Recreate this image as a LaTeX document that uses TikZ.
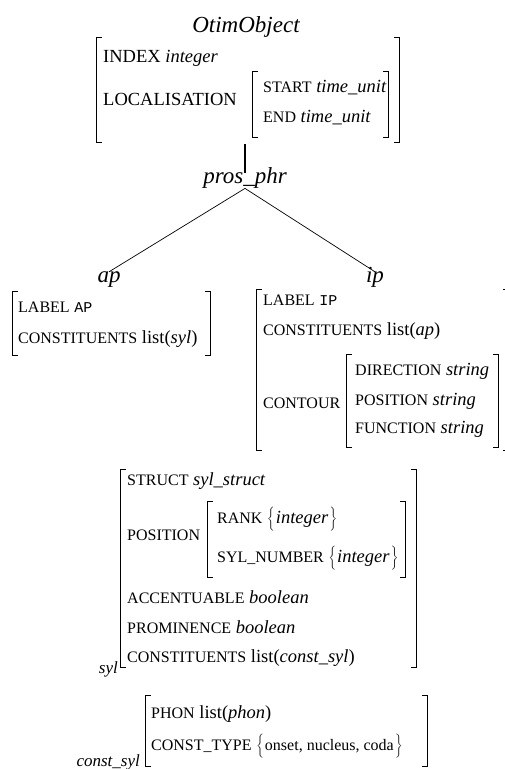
\documentclass[tikz,border=0pt]{standalone}
\usepackage{fontspec}
\setmainfont{Liberation Serif}
\newfontfamily\avmtt{Liberation Mono}
\usetikzlibrary{fit}
\newcommand{\feat}[1]{{\fontsize{16}{18}\selectfont #1}}
\newcommand{\atom}[1]{{\fontsize{15}{18}\avmtt #1}}
\newcommand{\tallstrut}{\vcenter{\hbox{\rule{0pt}{26pt}}}}
\newcommand{\setof}[1]{$\left\{\tallstrut\right.$#1$\left.\tallstrut\right\}$}
\begin{document}
\begin{tikzpicture}
    [
    x=1pt, y=-1pt,
    every node/.style={
      inner sep=0pt,
      font=\fontsize{18.5}{20}\selectfont
    },
    row/.style={anchor=base west},
    sort/.style={
      anchor=base,
      inner sep=3pt,
      text height=0.7em,
      text depth=0.22em,
      font=\fontsize{23}{27}\selectfont\itshape
    },
    tag/.style={
      anchor=base east,
      font=\fontsize{17}{20}\selectfont\itshape
    },
    bracket/.style={line width=0.8pt},
    branch/.style={line width=0.7pt},
    stem/.style={line width=1.6pt}
    ]
    \useasboundingbox (0,0) rectangle (504,769);

    % OtimObject
    \node (otimtitle) [sort] at (246,32) {OtimObject};
    \node (otim) [fit={(97,38) (399,142)}] {};
    \node (index) [row] at (103,62) {INDEX \textit{integer}};
    \node (loc) [row] at (103,105) {LOCALISATION};
    \node (locbox) [fit={(253,72) (388,137)}] {};
    \node (start) [row] at (263,92) {\feat{START} \textit{time\_unit}};
    \node (end) [row] at (263,122) {\feat{END} \textit{time\_unit}};

    % tree
    \node (prosphr) [sort] at (245,183) {pros\_phr};
    \node (ap) [sort] at (109,282) {ap};
    \node (ip) [sort] at (375,282) {ip};
    \draw[stem] (prosphr.north) -- ([yshift=-2pt]prosphr.north |- otim.south);
    \draw[branch] (prosphr.south) -- (ap.north);
    \draw[branch] (prosphr.south) -- (ip.north);

    % ap
    \node (apbox) [fit={(13,292) (210,355)}] {};
    \node (aplabel) [row] at (18,312) {\feat{LABEL} \atom{AP}};
    \node (apconst) [row] at (18,343) {\feat{CONSTITUENTS} list(\textit{syl})};

    % ip
    \node (ipbox) [fit={(257,290) (508,450)}] {};
    \node (iplabel) [row] at (263,305) {\feat{LABEL} \atom{IP}};
    \node (ipconst) [row] at (263,335) {\feat{CONSTITUENTS} list(\textit{ap})};
    \node (contour) [row] at (263,408) {\feat{CONTOUR}};
    \node (contourbox) [fit={(347,355) (498,447)}] {};
    \node (direction) [row] at (355,375) {\feat{DIRECTION} \textit{string}};
    \node (position) [row] at (355,405) {\feat{POSITION} \textit{string}};
    \node (function) [row] at (355,433) {\feat{FUNCTION} \textit{string}};

    % syl
    \node (sylbox) [fit={(121,470) (416,667)}] {};
    \node (syltag) [tag] at (118,673) {syl};
    \node (struct) [row] at (127,485) {\feat{STRUCT} \textit{syl\_struct}};
    \node (pos) [row] at (127,540) {\feat{POSITION}};
    \node (posbox) [fit={(208,502) (405,577)}] {};
    \node (rank) [row] at (217,523) {\feat{RANK} \setof{\textit{integer}}};
    \node (sylnum) [row] at (217,562) {\feat{SYL\_NUMBER} \setof{\textit{integer}}};
    \node (accent) [row] at (127,603) {\feat{ACCENTUABLE} \textit{boolean}};
    \node (prom) [row] at (127,633) {\feat{PROMINENCE} \textit{boolean}};
    \node (sylconst) [row] at (127,662) {\feat{CONSTITUENTS} list(\textit{const\_syl})};

    % const_syl
    \node (constbox) [fit={(146,696) (427,766)}] {};
    \node (consttag) [tag] at (140,766) {const\_syl};
    \node (phon) [row] at (151,718) {\feat{PHON} list(\textit{phon})};
    \node (ctype) [row] at (151,750) {\feat{CONST\_TYPE} \setof{\fontsize{16}{18}\selectfont onset, nucleus, coda}};

    \foreach \b in {otim,locbox,apbox,ipbox,contourbox,sylbox,posbox,constbox}
      \draw[bracket] ([xshift=5pt]\b.north west) -| (\b.south west) -- ([xshift=5pt]\b.south west)
        ([xshift=-5pt]\b.north east) -| (\b.south east) -- ([xshift=-5pt]\b.south east);
  \end{tikzpicture}
\end{document}
